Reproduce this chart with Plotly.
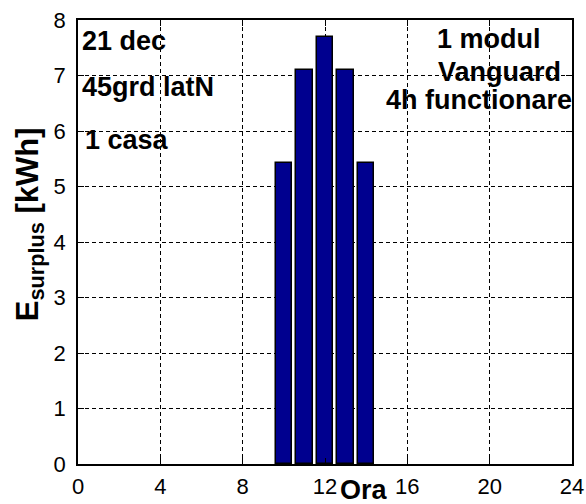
import plotly.graph_objects as go

# Hourly energy surplus on 21 December, 45 deg N, one Vanguard module
hours = [10, 11, 12, 13, 14]
surplus_kwh = [5.43, 7.1, 7.7, 7.1, 5.43]
x_ticks = [0, 4, 8, 12, 16, 20, 24]
y_ticks = [0, 1, 2, 3, 4, 5, 6, 7, 8]

left_notes = ["21 dec", "45grd latN", "1 casa"]
right_notes = ["1 modul", "Vanguard", "4h functionare"]

TXT_FONT = "Liberation Sans, Arial, sans-serif"

fig = go.Figure()
fig.add_trace(go.Bar(
    x=hours, y=surplus_kwh, width=0.8,
    marker=dict(color="#00008F", line=dict(color="black", width=1.5)),
    showlegend=False,
))

axis_common = dict(
    showline=True, linecolor="black", linewidth=1.5, mirror="ticks",
    ticks="inside", ticklen=6, tickcolor="black", tickwidth=1,
    showgrid=True, gridcolor="black", gridwidth=1, griddash="4px,3px",
    zeroline=False, automargin=False,
    tickfont=dict(family=TXT_FONT, size=22, color="black"),
)

fig.update_xaxes(range=[0, 24], tickvals=x_ticks, ticktext=[str(v) for v in x_ticks],
                 ticklabelstandoff=2, **axis_common)
fig.update_yaxes(range=[0, 8], tickvals=y_ticks, ticktext=[str(v) for v in y_ticks],
                 ticklabelstandoff=6, **axis_common)

annotations = []
# Left-hand notes (x in hours, y in kWh)
for text, xv, yv in zip(left_notes, [0.1, 0.1, 0.25], [7.62, 6.79, 5.84]):
    annotations.append(dict(x=xv, y=yv, xref="x", yref="y", text=f"<b>{text}</b>",
                            showarrow=False, xanchor="left", yanchor="middle",
                            font=dict(family=TXT_FONT, size=27, color="black")))
# Right-hand notes
for text, xv, yv in zip(right_notes, [19.95, 20.5, 19.5], [7.66, 7.07, 6.56]):
    annotations.append(dict(x=xv, y=yv, xref="x", yref="y", text=f"<b>{text}</b>",
                            showarrow=False, xanchor="center", yanchor="middle",
                            font=dict(family=TXT_FONT, size=27, color="black")))
# Axis titles
annotations.append(dict(x=13.9, y=0, xref="x", yref="paper", yshift=-26,
                        text="<b>Ora</b>", showarrow=False,
                        xanchor="center", yanchor="middle",
                        font=dict(family=TXT_FONT, size=27, color="black")))
annotations.append(dict(x=0, y=0.54, xref="paper", yref="paper", xshift=-48,
                        text="<b>E<sub>surplus</sub> [kWh]</b>", textangle=-90,
                        showarrow=False, xanchor="center", yanchor="middle",
                        font=dict(family=TXT_FONT, size=31, color="black")))

fig.update_layout(
    width=586, height=504,
    margin=dict(l=78, r=14, t=20, b=40),
    paper_bgcolor="white", plot_bgcolor="white",
    annotations=annotations,
    bargap=0,
)

fig.write_html("out.html")
